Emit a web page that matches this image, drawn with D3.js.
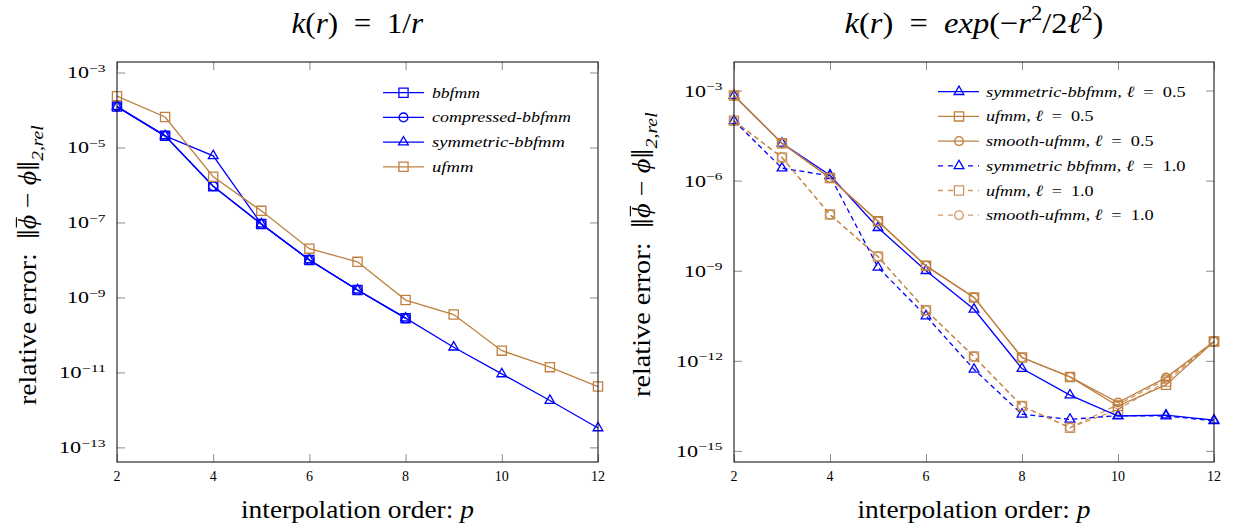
<!DOCTYPE html>
<html><head><meta charset="utf-8">
<script src="https://cdn.jsdelivr.net/npm/d3@7"></script>
<style>
body{margin:0;background:#fff}
svg{display:block}
text{font-family:"Liberation Serif","Times New Roman",serif;fill:#000;white-space:pre}
</style>
</head><body>
<svg id="c" width="1233" height="529"></svg>
<script>
// ---------------- data ----------------
const orders = [2, 3, 4, 5, 6, 7, 8, 9, 10, 11, 12];
const ordersShort = [2, 3, 4, 5, 6, 7, 8];
const xTicks = [2, 4, 6, 8, 10, 12];

// left panel: k(r) = 1/r
const bbfmm            = [1.23e-4, 2.04e-5, 9.3e-7, 9.1e-8, 1.0e-8, 1.58e-9, 2.8e-10];
const compressedBbfmm  = [1.23e-4, 2.04e-5, 9.3e-7, 9.1e-8, 1.0e-8, 1.58e-9, 2.8e-10];
const symmetricBbfmm   = [1.23e-4, 2.04e-5, 6.0e-6, 9.1e-8, 1.0e-8, 1.58e-9, 2.8e-10, 4.7e-11, 9.1e-12, 1.78e-12, 3.3e-13];
const ufmmLeft         = [2.34e-4, 6.5e-5, 1.66e-6, 2.04e-7, 2.0e-8, 8.9e-9, 8.5e-10, 3.5e-10, 3.8e-11, 1.38e-11, 4.2e-12];
const leftTicks    = [1e-3, 1e-5, 1e-7, 1e-9, 1e-11, 1e-13];
const leftTickExp  = ["−3", "−5", "−7", "−9", "−11", "−13"];

// right panel: k(r) = exp(-r^2/2l^2)
const symBbfmm05   = [6.8e-4, 1.74e-5, 1.51e-6, 2.7e-8, 1.0e-9, 5.2e-11, 5.5e-13, 7.2e-14, 1.45e-14, 1.55e-14, 1.05e-14];
const ufmm05       = [6.8e-4, 1.74e-5, 1.23e-6, 4.4e-8, 1.45e-9, 1.29e-10, 1.29e-12, 2.9e-13, 3.1e-14, 1.58e-13, 4.4e-12];
const smoothUfmm05 = [6.8e-4, 1.74e-5, 1.23e-6, 4.4e-8, 1.45e-9, 1.29e-10, 1.29e-12, 2.9e-13, 4.1e-14, 2.75e-13, 4.4e-12];
const symBbfmm10   = [9.8e-5, 2.6e-6, 1.45e-6, 1.29e-9, 3.1e-11, 5.2e-13, 1.66e-14, 1.12e-14, 1.5e-14, 1.45e-14, 1.0e-14];
const ufmm10       = [9.8e-5, 5.9e-6, 7.4e-8, 2.95e-9, 4.8e-11, 1.38e-12, 3.1e-14, 5.9e-15, 2.4e-14, 2.0e-13, 4.4e-12];
const smoothUfmm10 = [9.8e-5, 5.9e-6, 7.4e-8, 2.95e-9, 4.8e-11, 1.38e-12, 3.1e-14, 5.9e-15, 3.5e-14, 2.4e-13, 4.4e-12];
const rightTicks   = [1e-3, 1e-6, 1e-9, 1e-12, 1e-15];
const rightTickExp = ["−3", "−6", "−9", "−12", "−15"];

// ---------------- styles ----------------
const BLUE = "#0000ff", BROWN = "#bf8040";
const svg = d3.select("#c");

function richText(sel, segs, fs) {
  // segs: [text, mode]; mode may contain i (italic), sup, sub, bar (overbar), big
  let shift = 0;
  const bars = [];
  let charIdx = 0;
  segs.forEach(([t, m]) => {
    const ts = sel.append("tspan").text(t);
    if (m.includes("i")) ts.attr("font-style", "italic");
    let target = 0;
    if (m.includes("sup")) target = -fs * 0.42;
    if (m.includes("sub")) target = fs * 0.28;
    if (m.includes("sup") || m.includes("sub")) ts.attr("font-size", fs * 0.7);
    if (m.includes("big")) { ts.attr("font-size", fs * 1.3); target = fs * 0.12; }
    ts.attr("dy", target - shift);
    shift = target;
    if (m.includes("bar")) bars.push(charIdx);
    charIdx += t.length;
  });
  return bars;
}

// text placed with baseline at (cx, by), fitted to targetW along its direction
function label(segs, fs, cx, by, targetW, opts = {}) {
  const g = svg.append("g");
  const t = g.append("text").attr("font-size", fs);
  const bars = richText(t, segs, fs);
  bars.forEach(i => {
    const e = t.node().getExtentOfChar(i);
    g.append("line").attr("x1", e.x + e.width * 0.12).attr("x2", e.x + e.width * 0.82)
      .attr("y1", -fs * 0.8).attr("y2", -fs * 0.8).attr("stroke", "#000").attr("stroke-width", fs * 0.045);
  });
  const bb = t.node().getBBox();
  const sx = targetW ? targetW / bb.width : 1;
  const anchor = opts.anchor || "middle";
  const ox = anchor === "middle" ? bb.x + bb.width / 2 : anchor === "end" ? bb.x + bb.width : bb.x;
  g.attr("transform", `translate(${cx},${by}) rotate(${opts.rot || 0}) scale(${sx},1) translate(${-ox},0)`);
  return g;
}

function markerPath(type) {
  if (type === "square") { const s = 4.6; return `M${-s},${-s}H${s}V${s}H${-s}Z`; }
  if (type === "circle") { const r = 4.4; return `M${r},0A${r},${r} 0 1,1 ${-r},0A${r},${r} 0 1,1 ${r},0Z`; }
  if (type === "triangle") { const r = 5.6, c = r * Math.cos(Math.PI / 6); return `M0,${-r}L${c},${r/2}L${-c},${r/2}Z`; }
}

function panel(o) {
  const g = svg.append("g").attr("transform", `translate(${o.left},${o.top})`);
  const x = d3.scaleLinear().domain([2, 12]).range([0, o.width]);
  const y = d3.scaleLog().domain(o.yDomain).range([o.height, 0]);

  const tickStyle = a => a.call(s => s.select(".domain").remove())
    .call(s => s.selectAll(".tick line").attr("stroke", "#8c8c8c").attr("stroke-width", 1));
  g.append("g").call(d3.axisLeft(y).tickValues(o.yTicks).tickSize(-8).tickFormat("")).call(tickStyle);
  g.append("g").attr("transform", `translate(${o.width},0)`).call(d3.axisRight(y).tickValues(o.yTicks).tickSize(-8).tickFormat("")).call(tickStyle);
  g.append("g").call(d3.axisTop(x).tickValues(xTicks).tickSize(-8).tickFormat("")).call(tickStyle);
  g.append("g").attr("transform", `translate(0,${o.height})`).call(d3.axisBottom(x).tickValues(xTicks).tickSize(-8).tickFormat("")).call(tickStyle);

  // y tick labels
  o.yTicks.forEach((v, i) => {
    const exp = o.yTickExp[i];
    label([["10", ""], [exp, "sup"]], 16, o.left - 11, o.top + y(v) + 6,
      exp.length > 2 ? 47 : 39, { anchor: "end" });
  });
  // x tick labels
  xTicks.forEach(v => {
    g.append("text").attr("x", x(v)).attr("y", o.height + 19).attr("text-anchor", "middle")
      .attr("font-size", 14).text(v);
  });

  // series
  const plot = g.append("g");
  o.series.forEach(s => {
    const pts = s.xs.map((xv, i) => [x(xv), y(s.ys[i])]);
    plot.append("path").attr("d", d3.line()(pts)).attr("fill", "none")
      .attr("stroke", s.color).attr("stroke-width", 1.3)
      .attr("stroke-opacity", s.opacity || 1)
      .attr("stroke-dasharray", s.dashed ? "5,3.5" : null);
    plot.selectAll(null).data(pts).enter().append("path")
      .attr("transform", d => `translate(${d[0]},${d[1]})`)
      .attr("d", markerPath(s.marker)).attr("fill", "none")
      .attr("stroke", s.color).attr("stroke-width", 1.3)
      .attr("stroke-opacity", s.opacity || 1);
  });

  // frame
  g.append("rect").attr("width", o.width).attr("height", o.height).attr("fill", "none")
    .attr("stroke", "#1a1a1a").attr("stroke-width", 1.1);

  // legend
  o.legend.forEach((L, i) => {
    const s = o.series[L.idx];
    const ly = o.legendPos.y + i * 24.7;
    svg.append("path").attr("d", `M${o.legendPos.x0},${ly}H${o.legendPos.x1}`)
      .attr("stroke", s.color).attr("stroke-width", 1.3).attr("stroke-opacity", s.opacity || 1)
      .attr("stroke-dasharray", s.dashed ? "5,5" : null);
    svg.append("path").attr("transform", `translate(${o.legendPos.xm},${ly})`)
      .attr("d", markerPath(s.marker)).attr("fill", s.dashed ? "#fff" : "none")
      .attr("stroke", s.color).attr("stroke-width", 1.3).attr("stroke-opacity", s.opacity || 1);
    label(L.segs, 15.5, o.legendPos.xt, ly + 5, L.w, { anchor: "start" });
  });

  // title
  label(o.title, 30, o.left + o.width / 2, 32.5, o.titleW);
  // x label
  label([["interpolation order: ", ""], ["p", "i"]], 24.5, o.left + o.width / 2, 518, 233);
  // y label
  label([["relative error:  ", ""], ["‖", "big"], ["ϕ", "ibar"], [" − ", ""], ["ϕ", "i"], ["‖", "big"], ["2,rel", "isub"]],
    24.5, o.ylabX, o.ylabC, o.ylabW, { rot: -90 });
}

// left panel
panel({
  left: 117, top: 62, width: 481, height: 400,
  yDomain: [Math.pow(10, -13.39), Math.pow(10, -2.72)],
  yTicks: leftTicks, yTickExp: leftTickExp,
  series: [
    { xs: ordersShort, ys: bbfmm, color: BLUE, marker: "square" },
    { xs: ordersShort, ys: compressedBbfmm, color: BLUE, marker: "circle" },
    { xs: orders, ys: symmetricBbfmm, color: BLUE, marker: "triangle" },
    { xs: orders, ys: ufmmLeft, color: BROWN, marker: "square" }
  ],
  legend: [
    { idx: 0, segs: [["bbfmm", "i"]], w: 48 },
    { idx: 1, segs: [["compressed-bbfmm", "i"]], w: 139 },
    { idx: 2, segs: [["symmetric-bbfmm", "i"]], w: 133 },
    { idx: 3, segs: [["ufmm", "i"]], w: 41.5 }
  ],
  legendPos: { x0: 383, x1: 424, xm: 403.5, xt: 432, y: 92.7 },
  title: [["k", "i"], ["(", ""], ["r", "i"], [")  =  1/", ""], ["r", "i"]], titleW: 132,
  ylabX: 36, ylabC: 265, ylabW: 280
});

// right panel
panel({
  left: 734, top: 62, width: 480, height: 400,
  yDomain: [Math.pow(10, -15.37), Math.pow(10, -2.05)],
  yTicks: rightTicks, yTickExp: rightTickExp,
  series: [
    { xs: orders, ys: symBbfmm10, color: BLUE, marker: "triangle", dashed: true },
    { xs: orders, ys: ufmm10, color: BROWN, marker: "square", dashed: true, opacity: 0.8 },
    { xs: orders, ys: smoothUfmm10, color: BROWN, marker: "circle", dashed: true, opacity: 0.8 },
    { xs: orders, ys: symBbfmm05, color: BLUE, marker: "triangle" },
    { xs: orders, ys: ufmm05, color: BROWN, marker: "square" },
    { xs: orders, ys: smoothUfmm05, color: BROWN, marker: "circle" }
  ],
  legend: [
    { idx: 3, segs: [["symmetric-bbfmm, ℓ", "i"], ["  =  0.5", ""]], w: 200 },
    { idx: 4, segs: [["ufmm, ℓ", "i"], ["  =  0.5", ""]], w: 108 },
    { idx: 5, segs: [["smooth-ufmm, ℓ", "i"], ["  =  0.5", ""]], w: 168 },
    { idx: 0, segs: [["symmetric bbfmm, ℓ", "i"], ["  =  1.0", ""]], w: 200 },
    { idx: 1, segs: [["ufmm, ℓ", "i"], ["  =  1.0", ""]], w: 108 },
    { idx: 2, segs: [["smooth-ufmm, ℓ", "i"], ["  =  1.0", ""]], w: 168 }
  ],
  legendPos: { x0: 938, x1: 979, xm: 959, xt: 986, y: 91.7 },
  title: [["k", "i"], ["(", ""], ["r", "i"], [")  =  ", ""], ["exp", "i"], ["(−", ""], ["r", "i"], ["2", "sup"], ["/2", ""], ["ℓ", "i"], ["2", "sup"], [")", ""]],
  titleW: 259,
  ylabX: 650, ylabC: 254.5, ylabW: 285
});
</script>
</body></html>
